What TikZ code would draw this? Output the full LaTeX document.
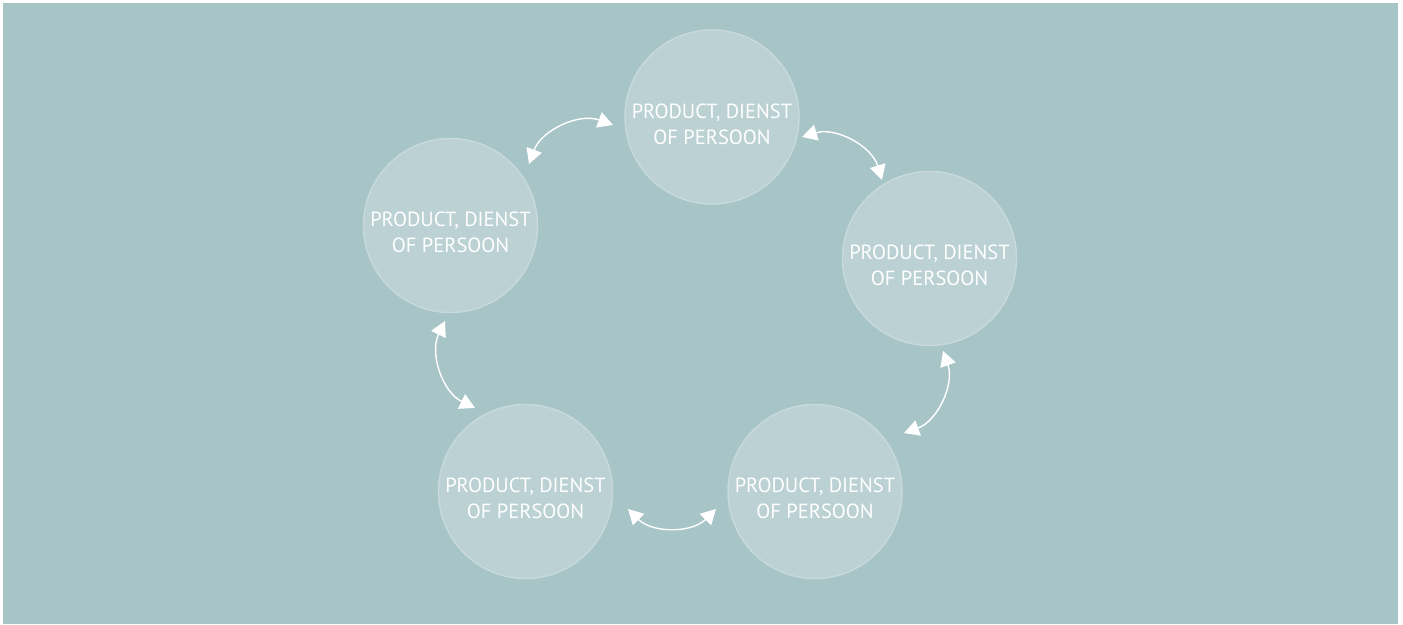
\documentclass[tikz,border=0pt]{standalone}
\usepackage{fontspec}
\setmainfont{PT Sans}
\usetikzlibrary{arrows.meta}
\definecolor{bg}{RGB}{167,196,199}
\definecolor{cfill}{RGB}{187,209,212}
\definecolor{cline}{RGB}{199,217,219}
\begin{document}
\begin{tikzpicture}[x=1pt,y=-1pt,
  item/.style={circle,fill=cfill,draw=cline,line width=1.5pt,minimum size=174pt,inner sep=0pt},
  txt/.style={text=white,align=center,inner sep=0pt,font=\fontsize{20.5}{26}\selectfont},
  link/.style={draw=white,line width=1.4pt,{Triangle[length=15pt,width=16pt]}-{Triangle[length=15pt,width=16pt]}}]
\useasboundingbox (0,0) rectangle (1403,624);
\fill[bg] (3,3) rectangle (1398,624);
% circles
\node[item] (top) at (712,117) {};
\node[item] (left) at (450.5,225.5) {};
\node[item] (right) at (929.5,258.5) {};
\node[item] (bl) at (525.5,491.5) {};
\node[item] (br) at (815,491.5) {};
% texts
\node[txt] (toptext) at ([yshift=-7pt]top.center) {PRODUCT, DIENST\\OF PERSOON};
\node[txt] (lefttext) at ([yshift=-7pt]left.center) {PRODUCT, DIENST\\OF PERSOON};
\node[txt] (righttext) at ([yshift=-7pt]right.center) {PRODUCT, DIENST\\OF PERSOON};
\node[txt] (bltext) at ([yshift=-7pt]bl.center) {PRODUCT, DIENST\\OF PERSOON};
\node[txt] (brtext) at ([yshift=-7pt]br.center) {PRODUCT, DIENST\\OF PERSOON};
% arrow end points
\coordinate (lt1) at (529,164);
\coordinate (lt2) at (613,125);
\coordinate (tr1) at (802,137);
\coordinate (tr2) at (882,180);
\coordinate (rb1) at (943,351);
\coordinate (rb2) at (904,433);
\coordinate (bb1) at (716,509);
\coordinate (bb2) at (628,509);
\coordinate (bl1) at (475,408);
\coordinate (bl2) at (445,321);
% connectors
\draw[link] (lt1) to[bend left=45] (lt2);
\draw[link] (tr1) to[bend left=45] (tr2);
\draw[link] (rb1) to[bend left=45] (rb2);
\draw[link] (bb1) to[bend left=45] (bb2);
\draw[link] (bl1) to[bend left=45] (bl2);
\end{tikzpicture}
\end{document}
